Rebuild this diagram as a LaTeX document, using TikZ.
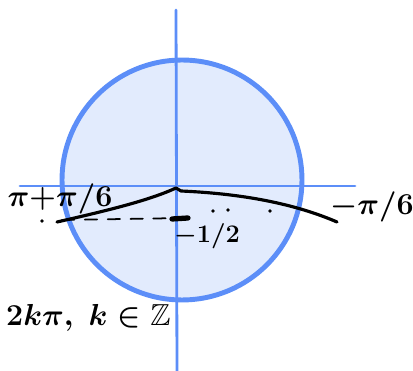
\documentclass[tikz,border=0pt]{standalone}
\usepackage{amsmath, amssymb}
\usetikzlibrary{positioning, calc}
\definecolor{axisblue}{RGB}{92,142,248}
\definecolor{discfill}{RGB}{226,235,253}
\tikzset{every node/.style={font=\LARGE\boldmath}, every path/.style={line cap=round, line join=round},
    axisline/.style={axisblue, line width=1.6pt},
    ink/.style={black, line width=1.8pt}}

\begin{document}
\begin{tikzpicture}[x=0.02cm, y=-0.02cm]
    \useasboundingbox (0,0) rectangle (413,371);
    % unit circle
    \node [circle, draw=axisblue, fill=discfill, line width=2.8pt, inner sep=0pt, minimum size=4.8cm] (disc) at (182,180) {};
    % axes
    \coordinate (ytop) at (176,10);
    \coordinate (ybot) at (177,371);
    \coordinate (xleft) at (20,186);
    \coordinate (xright) at (355,186);
    \draw [axisline] (ytop) -- (ybot);
    \draw [axisline] (xleft) -- (xright);
    % sine curve near the x-axis
    \coordinate (peak) at (176,188);
    \draw [ink] (57,222) .. controls (110,210) and (150,200) .. (peak)
        -- (181,191) .. controls (250,194) and (300,206) .. (337,222);
    \draw [ink, line width=1pt, dash pattern=on 7pt off 6pt] (62,220) -- (185,218);
    \draw [ink, line width=3pt] (172,219) -- (188,218);
    \foreach \px/\py in {213/211, 228/210, 270/211, 42/221}
        \fill (\px,\py) circle (1pt);
    % labels
    \node (left) at (60,199) {$\pi{+}\pi/6$};
    \node (right) at (372,207) {$-\pi/6$};
    \node [font=\Large\boldmath] (half) at (207,236) {$-1/2$};
    \node [anchor=west] (period) at (0,318) {$2k\pi,\ k\in\mathbb{Z}$};
\end{tikzpicture}
\end{document}
